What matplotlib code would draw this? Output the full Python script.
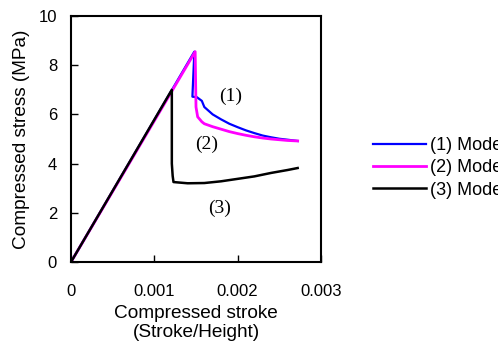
import numpy as np
import matplotlib.pyplot as plt

plt.rcParams['font.family'] = ['Liberation Sans', 'DejaVu Sans']

# (1) Model - blue
x1 = [0, 0.00148, 0.001457, 0.00151, 0.00155, 0.00157, 0.00160, 0.00165, 0.0017,
      0.0018, 0.0019, 0.0020, 0.0021, 0.0022, 0.0023, 0.0024, 0.0025, 0.0026, 0.00272]
y1 = [0, 8.55, 6.72, 6.70, 6.60, 6.55, 6.30, 6.15, 6.00,
      5.80, 5.62, 5.48, 5.35, 5.24, 5.14, 5.07, 5.01, 4.97, 4.92]

# (2) Model - magenta
x2 = [0, 0.00149, 0.00150, 0.00152, 0.00157, 0.0016, 0.0017, 0.0018, 0.0019,
      0.0020, 0.0021, 0.0022, 0.0023, 0.0024, 0.0025, 0.0026, 0.00272]
y2 = [0, 8.55, 6.30, 5.90, 5.70, 5.62, 5.50, 5.40, 5.30,
      5.22, 5.15, 5.09, 5.04, 5.00, 4.97, 4.94, 4.92]

# (3) Model - black
x3 = [0, 0.00121, 0.00121, 0.00122, 0.00123, 0.0014, 0.0016, 0.0018,
      0.0020, 0.0022, 0.0024, 0.0026, 0.00272]
y3 = [0, 7.0, 4.0, 3.5, 3.25, 3.2, 3.21, 3.28,
      3.38, 3.48, 3.62, 3.74, 3.82]

labels = ['(1) Model', '(2) Model', '(3) Model']
colors = ['#0000ff', '#ff00ff', '#000000']

fig = plt.figure(figsize=(4.98, 3.54), dpi=100)
ax = fig.add_axes([71 / 498, 92 / 354, 250 / 498, 246 / 354])

ax.plot(x1, y1, color=colors[0], lw=1.6, label=labels[0])
ax.plot(x2, y2, color=colors[1], lw=2.0, label=labels[1])
ax.plot(x3, y3, color=colors[2], lw=1.8, label=labels[2])

# curve tags
tag_font = dict(family='Liberation Serif', fontsize=14, ha='center', va='center')
ax.text(0.00192, 6.75, '(1)', **tag_font)
ax.text(0.00163, 4.8, '(2)', **tag_font)
ax.text(0.00178, 2.2, '(3)', **tag_font)

ax.set_xlim(0, 0.003)
ax.set_ylim(0, 10)
ax.set_xticks([0, 0.001, 0.002, 0.003])
ax.set_xticklabels(['0', '0.001', '0.002', '0.003'])
ax.set_yticks([0, 2, 4, 6, 8, 10])
ax.tick_params(direction='in', length=5, width=1, labelsize=12)
ax.tick_params(axis='x', pad=16)
ax.tick_params(axis='y', pad=10)
for s in ax.spines.values():
    s.set_linewidth(1.5)

ax.set_xlabel('Compressed stroke\n(Stroke/Height)', fontsize=13.7, labelpad=4,
              linespacing=1.15)
ax.set_ylabel('Compressed stress (MPa)', fontsize=13.7, labelpad=6)

fig.legend(loc='center left', bbox_to_anchor=(366 / 498, (354 - 168) / 354),
           frameon=False, fontsize=13, handlelength=2.9, handletextpad=0.25,
           labelspacing=0.28, borderaxespad=0)

fig.savefig('out.png', dpi=100)
